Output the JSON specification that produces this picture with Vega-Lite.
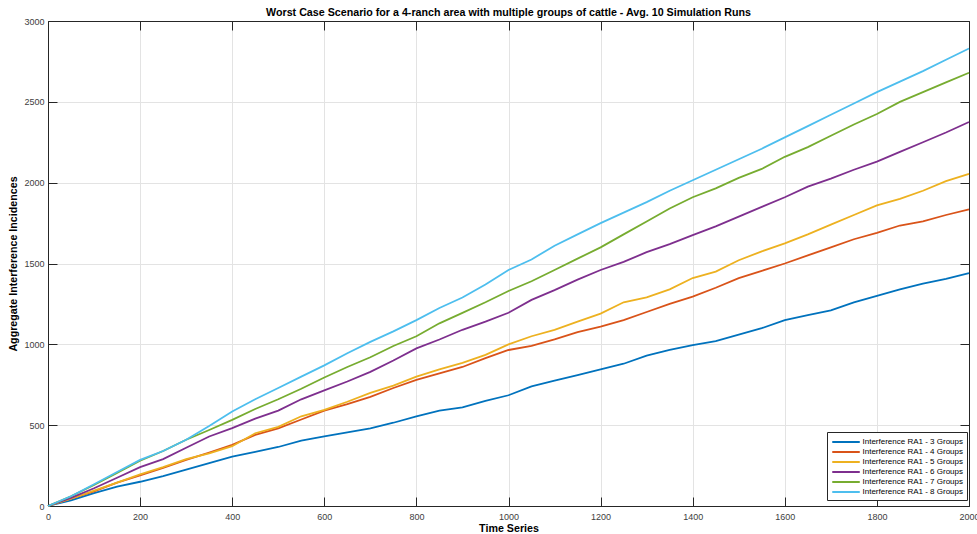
{
  "$schema": "https://vega.github.io/schema/vega-lite/v6.json",
  "width": 921,
  "height": 485,
  "autosize": {"type": "none"},
  "padding": {"left": 48, "top": 21, "right": 8, "bottom": 28},
  "background": "white",
  "config": {
    "font": "Liberation Sans",
    "view": {"stroke": null},
    "axis": {"labelFont": "Liberation Sans", "titleFont": "Liberation Sans"}
  },
  "title": {
    "text": "Worst Case Scenario for a 4-ranch area with multiple groups of cattle - Avg. 10 Simulation Runs",
    "font": "Liberation Sans",
    "fontSize": 10.7,
    "fontWeight": "bold",
    "color": "#000000",
    "anchor": "middle",
    "offset": 5,
    "dy": 7
  },
  "data": {
    "values": [
      {"t":0,"v":0,"s":"Interference RA1 - 3 Groups"},{"t":50,"v":35,"s":"Interference RA1 - 3 Groups"},{"t":100,"v":80,"s":"Interference RA1 - 3 Groups"},{"t":150,"v":120,"s":"Interference RA1 - 3 Groups"},{"t":200,"v":150,"s":"Interference RA1 - 3 Groups"},{"t":250,"v":185,"s":"Interference RA1 - 3 Groups"},{"t":300,"v":225,"s":"Interference RA1 - 3 Groups"},{"t":350,"v":265,"s":"Interference RA1 - 3 Groups"},{"t":400,"v":305,"s":"Interference RA1 - 3 Groups"},{"t":450,"v":335,"s":"Interference RA1 - 3 Groups"},{"t":500,"v":365,"s":"Interference RA1 - 3 Groups"},{"t":550,"v":405,"s":"Interference RA1 - 3 Groups"},{"t":600,"v":430,"s":"Interference RA1 - 3 Groups"},{"t":650,"v":455,"s":"Interference RA1 - 3 Groups"},{"t":700,"v":480,"s":"Interference RA1 - 3 Groups"},{"t":750,"v":515,"s":"Interference RA1 - 3 Groups"},{"t":800,"v":555,"s":"Interference RA1 - 3 Groups"},{"t":850,"v":590,"s":"Interference RA1 - 3 Groups"},{"t":900,"v":610,"s":"Interference RA1 - 3 Groups"},{"t":950,"v":650,"s":"Interference RA1 - 3 Groups"},{"t":1000,"v":685,"s":"Interference RA1 - 3 Groups"},{"t":1050,"v":740,"s":"Interference RA1 - 3 Groups"},{"t":1100,"v":775,"s":"Interference RA1 - 3 Groups"},{"t":1150,"v":810,"s":"Interference RA1 - 3 Groups"},{"t":1200,"v":845,"s":"Interference RA1 - 3 Groups"},{"t":1250,"v":880,"s":"Interference RA1 - 3 Groups"},{"t":1300,"v":930,"s":"Interference RA1 - 3 Groups"},{"t":1350,"v":965,"s":"Interference RA1 - 3 Groups"},{"t":1400,"v":995,"s":"Interference RA1 - 3 Groups"},{"t":1450,"v":1020,"s":"Interference RA1 - 3 Groups"},{"t":1500,"v":1060,"s":"Interference RA1 - 3 Groups"},{"t":1550,"v":1100,"s":"Interference RA1 - 3 Groups"},{"t":1600,"v":1150,"s":"Interference RA1 - 3 Groups"},{"t":1650,"v":1180,"s":"Interference RA1 - 3 Groups"},{"t":1700,"v":1210,"s":"Interference RA1 - 3 Groups"},{"t":1750,"v":1260,"s":"Interference RA1 - 3 Groups"},{"t":1800,"v":1300,"s":"Interference RA1 - 3 Groups"},{"t":1850,"v":1340,"s":"Interference RA1 - 3 Groups"},{"t":1900,"v":1375,"s":"Interference RA1 - 3 Groups"},{"t":1950,"v":1405,"s":"Interference RA1 - 3 Groups"},{"t":2000,"v":1440,"s":"Interference RA1 - 3 Groups"},

      {"t":0,"v":0,"s":"Interference RA1 - 4 Groups"},{"t":50,"v":45,"s":"Interference RA1 - 4 Groups"},{"t":100,"v":90,"s":"Interference RA1 - 4 Groups"},{"t":150,"v":145,"s":"Interference RA1 - 4 Groups"},{"t":200,"v":190,"s":"Interference RA1 - 4 Groups"},{"t":250,"v":235,"s":"Interference RA1 - 4 Groups"},{"t":300,"v":285,"s":"Interference RA1 - 4 Groups"},{"t":350,"v":330,"s":"Interference RA1 - 4 Groups"},{"t":400,"v":378,"s":"Interference RA1 - 4 Groups"},{"t":450,"v":440,"s":"Interference RA1 - 4 Groups"},{"t":500,"v":480,"s":"Interference RA1 - 4 Groups"},{"t":550,"v":535,"s":"Interference RA1 - 4 Groups"},{"t":600,"v":590,"s":"Interference RA1 - 4 Groups"},{"t":650,"v":630,"s":"Interference RA1 - 4 Groups"},{"t":700,"v":675,"s":"Interference RA1 - 4 Groups"},{"t":750,"v":730,"s":"Interference RA1 - 4 Groups"},{"t":800,"v":780,"s":"Interference RA1 - 4 Groups"},{"t":850,"v":820,"s":"Interference RA1 - 4 Groups"},{"t":900,"v":860,"s":"Interference RA1 - 4 Groups"},{"t":950,"v":915,"s":"Interference RA1 - 4 Groups"},{"t":1000,"v":965,"s":"Interference RA1 - 4 Groups"},{"t":1050,"v":990,"s":"Interference RA1 - 4 Groups"},{"t":1100,"v":1030,"s":"Interference RA1 - 4 Groups"},{"t":1150,"v":1075,"s":"Interference RA1 - 4 Groups"},{"t":1200,"v":1110,"s":"Interference RA1 - 4 Groups"},{"t":1250,"v":1150,"s":"Interference RA1 - 4 Groups"},{"t":1300,"v":1200,"s":"Interference RA1 - 4 Groups"},{"t":1350,"v":1250,"s":"Interference RA1 - 4 Groups"},{"t":1400,"v":1295,"s":"Interference RA1 - 4 Groups"},{"t":1450,"v":1350,"s":"Interference RA1 - 4 Groups"},{"t":1500,"v":1410,"s":"Interference RA1 - 4 Groups"},{"t":1550,"v":1455,"s":"Interference RA1 - 4 Groups"},{"t":1600,"v":1500,"s":"Interference RA1 - 4 Groups"},{"t":1650,"v":1550,"s":"Interference RA1 - 4 Groups"},{"t":1700,"v":1600,"s":"Interference RA1 - 4 Groups"},{"t":1750,"v":1650,"s":"Interference RA1 - 4 Groups"},{"t":1800,"v":1690,"s":"Interference RA1 - 4 Groups"},{"t":1850,"v":1735,"s":"Interference RA1 - 4 Groups"},{"t":1900,"v":1760,"s":"Interference RA1 - 4 Groups"},{"t":1950,"v":1800,"s":"Interference RA1 - 4 Groups"},{"t":2000,"v":1835,"s":"Interference RA1 - 4 Groups"},

      {"t":0,"v":0,"s":"Interference RA1 - 5 Groups"},{"t":50,"v":45,"s":"Interference RA1 - 5 Groups"},{"t":100,"v":95,"s":"Interference RA1 - 5 Groups"},{"t":150,"v":145,"s":"Interference RA1 - 5 Groups"},{"t":200,"v":195,"s":"Interference RA1 - 5 Groups"},{"t":250,"v":240,"s":"Interference RA1 - 5 Groups"},{"t":300,"v":290,"s":"Interference RA1 - 5 Groups"},{"t":350,"v":325,"s":"Interference RA1 - 5 Groups"},{"t":400,"v":370,"s":"Interference RA1 - 5 Groups"},{"t":450,"v":450,"s":"Interference RA1 - 5 Groups"},{"t":500,"v":490,"s":"Interference RA1 - 5 Groups"},{"t":550,"v":555,"s":"Interference RA1 - 5 Groups"},{"t":600,"v":595,"s":"Interference RA1 - 5 Groups"},{"t":650,"v":645,"s":"Interference RA1 - 5 Groups"},{"t":700,"v":700,"s":"Interference RA1 - 5 Groups"},{"t":750,"v":745,"s":"Interference RA1 - 5 Groups"},{"t":800,"v":800,"s":"Interference RA1 - 5 Groups"},{"t":850,"v":845,"s":"Interference RA1 - 5 Groups"},{"t":900,"v":885,"s":"Interference RA1 - 5 Groups"},{"t":950,"v":935,"s":"Interference RA1 - 5 Groups"},{"t":1000,"v":1000,"s":"Interference RA1 - 5 Groups"},{"t":1050,"v":1050,"s":"Interference RA1 - 5 Groups"},{"t":1100,"v":1090,"s":"Interference RA1 - 5 Groups"},{"t":1150,"v":1140,"s":"Interference RA1 - 5 Groups"},{"t":1200,"v":1190,"s":"Interference RA1 - 5 Groups"},{"t":1250,"v":1260,"s":"Interference RA1 - 5 Groups"},{"t":1300,"v":1290,"s":"Interference RA1 - 5 Groups"},{"t":1350,"v":1340,"s":"Interference RA1 - 5 Groups"},{"t":1400,"v":1410,"s":"Interference RA1 - 5 Groups"},{"t":1450,"v":1450,"s":"Interference RA1 - 5 Groups"},{"t":1500,"v":1520,"s":"Interference RA1 - 5 Groups"},{"t":1550,"v":1575,"s":"Interference RA1 - 5 Groups"},{"t":1600,"v":1625,"s":"Interference RA1 - 5 Groups"},{"t":1650,"v":1680,"s":"Interference RA1 - 5 Groups"},{"t":1700,"v":1740,"s":"Interference RA1 - 5 Groups"},{"t":1750,"v":1800,"s":"Interference RA1 - 5 Groups"},{"t":1800,"v":1860,"s":"Interference RA1 - 5 Groups"},{"t":1850,"v":1900,"s":"Interference RA1 - 5 Groups"},{"t":1900,"v":1950,"s":"Interference RA1 - 5 Groups"},{"t":1950,"v":2010,"s":"Interference RA1 - 5 Groups"},{"t":2000,"v":2055,"s":"Interference RA1 - 5 Groups"},

      {"t":0,"v":0,"s":"Interference RA1 - 6 Groups"},{"t":50,"v":50,"s":"Interference RA1 - 6 Groups"},{"t":100,"v":110,"s":"Interference RA1 - 6 Groups"},{"t":150,"v":175,"s":"Interference RA1 - 6 Groups"},{"t":200,"v":240,"s":"Interference RA1 - 6 Groups"},{"t":250,"v":290,"s":"Interference RA1 - 6 Groups"},{"t":300,"v":360,"s":"Interference RA1 - 6 Groups"},{"t":350,"v":430,"s":"Interference RA1 - 6 Groups"},{"t":400,"v":482,"s":"Interference RA1 - 6 Groups"},{"t":450,"v":540,"s":"Interference RA1 - 6 Groups"},{"t":500,"v":590,"s":"Interference RA1 - 6 Groups"},{"t":550,"v":660,"s":"Interference RA1 - 6 Groups"},{"t":600,"v":715,"s":"Interference RA1 - 6 Groups"},{"t":650,"v":770,"s":"Interference RA1 - 6 Groups"},{"t":700,"v":830,"s":"Interference RA1 - 6 Groups"},{"t":750,"v":900,"s":"Interference RA1 - 6 Groups"},{"t":800,"v":975,"s":"Interference RA1 - 6 Groups"},{"t":850,"v":1030,"s":"Interference RA1 - 6 Groups"},{"t":900,"v":1090,"s":"Interference RA1 - 6 Groups"},{"t":950,"v":1140,"s":"Interference RA1 - 6 Groups"},{"t":1000,"v":1195,"s":"Interference RA1 - 6 Groups"},{"t":1050,"v":1275,"s":"Interference RA1 - 6 Groups"},{"t":1100,"v":1335,"s":"Interference RA1 - 6 Groups"},{"t":1150,"v":1400,"s":"Interference RA1 - 6 Groups"},{"t":1200,"v":1460,"s":"Interference RA1 - 6 Groups"},{"t":1250,"v":1510,"s":"Interference RA1 - 6 Groups"},{"t":1300,"v":1570,"s":"Interference RA1 - 6 Groups"},{"t":1350,"v":1620,"s":"Interference RA1 - 6 Groups"},{"t":1400,"v":1675,"s":"Interference RA1 - 6 Groups"},{"t":1450,"v":1730,"s":"Interference RA1 - 6 Groups"},{"t":1500,"v":1790,"s":"Interference RA1 - 6 Groups"},{"t":1550,"v":1850,"s":"Interference RA1 - 6 Groups"},{"t":1600,"v":1910,"s":"Interference RA1 - 6 Groups"},{"t":1650,"v":1975,"s":"Interference RA1 - 6 Groups"},{"t":1700,"v":2025,"s":"Interference RA1 - 6 Groups"},{"t":1750,"v":2080,"s":"Interference RA1 - 6 Groups"},{"t":1800,"v":2130,"s":"Interference RA1 - 6 Groups"},{"t":1850,"v":2190,"s":"Interference RA1 - 6 Groups"},{"t":1900,"v":2250,"s":"Interference RA1 - 6 Groups"},{"t":1950,"v":2310,"s":"Interference RA1 - 6 Groups"},{"t":2000,"v":2375,"s":"Interference RA1 - 6 Groups"},

      {"t":0,"v":0,"s":"Interference RA1 - 7 Groups"},{"t":50,"v":60,"s":"Interference RA1 - 7 Groups"},{"t":100,"v":130,"s":"Interference RA1 - 7 Groups"},{"t":150,"v":205,"s":"Interference RA1 - 7 Groups"},{"t":200,"v":280,"s":"Interference RA1 - 7 Groups"},{"t":250,"v":340,"s":"Interference RA1 - 7 Groups"},{"t":300,"v":410,"s":"Interference RA1 - 7 Groups"},{"t":350,"v":470,"s":"Interference RA1 - 7 Groups"},{"t":400,"v":533,"s":"Interference RA1 - 7 Groups"},{"t":450,"v":600,"s":"Interference RA1 - 7 Groups"},{"t":500,"v":660,"s":"Interference RA1 - 7 Groups"},{"t":550,"v":725,"s":"Interference RA1 - 7 Groups"},{"t":600,"v":795,"s":"Interference RA1 - 7 Groups"},{"t":650,"v":860,"s":"Interference RA1 - 7 Groups"},{"t":700,"v":920,"s":"Interference RA1 - 7 Groups"},{"t":750,"v":990,"s":"Interference RA1 - 7 Groups"},{"t":800,"v":1050,"s":"Interference RA1 - 7 Groups"},{"t":850,"v":1130,"s":"Interference RA1 - 7 Groups"},{"t":900,"v":1195,"s":"Interference RA1 - 7 Groups"},{"t":950,"v":1260,"s":"Interference RA1 - 7 Groups"},{"t":1000,"v":1330,"s":"Interference RA1 - 7 Groups"},{"t":1050,"v":1390,"s":"Interference RA1 - 7 Groups"},{"t":1100,"v":1460,"s":"Interference RA1 - 7 Groups"},{"t":1150,"v":1530,"s":"Interference RA1 - 7 Groups"},{"t":1200,"v":1600,"s":"Interference RA1 - 7 Groups"},{"t":1250,"v":1680,"s":"Interference RA1 - 7 Groups"},{"t":1300,"v":1760,"s":"Interference RA1 - 7 Groups"},{"t":1350,"v":1840,"s":"Interference RA1 - 7 Groups"},{"t":1400,"v":1910,"s":"Interference RA1 - 7 Groups"},{"t":1450,"v":1965,"s":"Interference RA1 - 7 Groups"},{"t":1500,"v":2030,"s":"Interference RA1 - 7 Groups"},{"t":1550,"v":2085,"s":"Interference RA1 - 7 Groups"},{"t":1600,"v":2160,"s":"Interference RA1 - 7 Groups"},{"t":1650,"v":2220,"s":"Interference RA1 - 7 Groups"},{"t":1700,"v":2290,"s":"Interference RA1 - 7 Groups"},{"t":1750,"v":2360,"s":"Interference RA1 - 7 Groups"},{"t":1800,"v":2425,"s":"Interference RA1 - 7 Groups"},{"t":1850,"v":2500,"s":"Interference RA1 - 7 Groups"},{"t":1900,"v":2560,"s":"Interference RA1 - 7 Groups"},{"t":1950,"v":2620,"s":"Interference RA1 - 7 Groups"},{"t":2000,"v":2680,"s":"Interference RA1 - 7 Groups"},

      {"t":0,"v":0,"s":"Interference RA1 - 8 Groups"},{"t":50,"v":60,"s":"Interference RA1 - 8 Groups"},{"t":100,"v":135,"s":"Interference RA1 - 8 Groups"},{"t":150,"v":210,"s":"Interference RA1 - 8 Groups"},{"t":200,"v":285,"s":"Interference RA1 - 8 Groups"},{"t":250,"v":340,"s":"Interference RA1 - 8 Groups"},{"t":300,"v":410,"s":"Interference RA1 - 8 Groups"},{"t":350,"v":495,"s":"Interference RA1 - 8 Groups"},{"t":400,"v":585,"s":"Interference RA1 - 8 Groups"},{"t":450,"v":660,"s":"Interference RA1 - 8 Groups"},{"t":500,"v":730,"s":"Interference RA1 - 8 Groups"},{"t":550,"v":800,"s":"Interference RA1 - 8 Groups"},{"t":600,"v":870,"s":"Interference RA1 - 8 Groups"},{"t":650,"v":945,"s":"Interference RA1 - 8 Groups"},{"t":700,"v":1015,"s":"Interference RA1 - 8 Groups"},{"t":750,"v":1080,"s":"Interference RA1 - 8 Groups"},{"t":800,"v":1150,"s":"Interference RA1 - 8 Groups"},{"t":850,"v":1225,"s":"Interference RA1 - 8 Groups"},{"t":900,"v":1290,"s":"Interference RA1 - 8 Groups"},{"t":950,"v":1370,"s":"Interference RA1 - 8 Groups"},{"t":1000,"v":1460,"s":"Interference RA1 - 8 Groups"},{"t":1050,"v":1525,"s":"Interference RA1 - 8 Groups"},{"t":1100,"v":1610,"s":"Interference RA1 - 8 Groups"},{"t":1150,"v":1680,"s":"Interference RA1 - 8 Groups"},{"t":1200,"v":1750,"s":"Interference RA1 - 8 Groups"},{"t":1250,"v":1815,"s":"Interference RA1 - 8 Groups"},{"t":1300,"v":1880,"s":"Interference RA1 - 8 Groups"},{"t":1350,"v":1950,"s":"Interference RA1 - 8 Groups"},{"t":1400,"v":2015,"s":"Interference RA1 - 8 Groups"},{"t":1450,"v":2080,"s":"Interference RA1 - 8 Groups"},{"t":1500,"v":2145,"s":"Interference RA1 - 8 Groups"},{"t":1550,"v":2210,"s":"Interference RA1 - 8 Groups"},{"t":1600,"v":2280,"s":"Interference RA1 - 8 Groups"},{"t":1650,"v":2350,"s":"Interference RA1 - 8 Groups"},{"t":1700,"v":2420,"s":"Interference RA1 - 8 Groups"},{"t":1750,"v":2490,"s":"Interference RA1 - 8 Groups"},{"t":1800,"v":2560,"s":"Interference RA1 - 8 Groups"},{"t":1850,"v":2625,"s":"Interference RA1 - 8 Groups"},{"t":1900,"v":2690,"s":"Interference RA1 - 8 Groups"},{"t":1950,"v":2760,"s":"Interference RA1 - 8 Groups"},{"t":2000,"v":2830,"s":"Interference RA1 - 8 Groups"}
    ]
  },
  "resolve": {"axis": {"x": "independent", "y": "independent"}},
  "layer": [
    {
      "mark": {"type": "line", "strokeWidth": 1.8},
      "encoding": {
        "x": {
          "field": "t", "type": "quantitative",
          "scale": {"domain": [0, 2000], "nice": false, "zero": false},
          "axis": {
            "orient": "bottom", "title": "Time Series", "values": [0,200,400,600,800,1000,1200,1400,1600,1800,2000],
            "format": "d", "tickSize": -9, "tickColor": "#262626", "domainColor": "#262626",
            "labelColor": "#404040", "labelFontSize": 9, "labelPadding": 15, "labelFlush": false,
            "titleFontSize": 10.7, "titleFontWeight": "bold", "titleColor": "#000000", "titlePadding": 2,
            "grid": true, "gridColor": "#e3e3e3", "gridWidth": 1
          }
        },
        "y": {
          "field": "v", "type": "quantitative",
          "scale": {"domain": [0, 3000], "nice": false},
          "axis": {
            "orient": "left", "title": "Aggregate Interference Incidences", "values": [0,500,1000,1500,2000,2500,3000],
            "format": "d", "tickSize": -9, "tickColor": "#262626", "domainColor": "#262626",
            "labelColor": "#404040", "labelFontSize": 9, "labelPadding": 13,
            "titleFontSize": 10.7, "titleFontWeight": "bold", "titleColor": "#000000", "titlePadding": 5,
            "grid": true, "gridColor": "#e3e3e3", "gridWidth": 1
          }
        },
        "color": {
          "field": "s", "type": "nominal",
          "scale": {
            "domain": ["Interference RA1 - 3 Groups","Interference RA1 - 4 Groups","Interference RA1 - 5 Groups","Interference RA1 - 6 Groups","Interference RA1 - 7 Groups","Interference RA1 - 8 Groups"],
            "range": ["#0072BD","#D95319","#EDB120","#7E2F8E","#77AC30","#4DBEEE"]
          },
          "legend": {
            "title": null, "orient": "none", "legendX": 779, "legendY": 411,
            "symbolType": "M-1,0H4.8", "symbolSize": 90, "symbolStrokeWidth": 2,
            "labelFontSize": 8, "labelColor": "#000000", "labelLimit": 300, "labelOffset": 19.5,
            "rowPadding": -2.5, "padding": 4, "strokeColor": "#262626", "fillColor": "white",
            "cornerRadius": 0
          }
        }
      }
    },
    {
      "mark": {"type": "line", "strokeOpacity": 0},
      "encoding": {
        "x": {
          "field": "t", "type": "quantitative",
          "axis": {"orient": "top", "title": null, "labels": false, "values": [0,200,400,600,800,1000,1200,1400,1600,1800,2000],
            "tickSize": -9, "tickColor": "#262626", "domainColor": "#262626", "grid": false}
        },
        "y": {
          "field": "v", "type": "quantitative",
          "axis": {"orient": "right", "title": null, "labels": false, "values": [0,500,1000,1500,2000,2500,3000],
            "tickSize": -9, "tickColor": "#262626", "domainColor": "#262626", "grid": false}
        },
        "detail": {"field": "s", "type": "nominal"}
      }
    }
  ]
}
